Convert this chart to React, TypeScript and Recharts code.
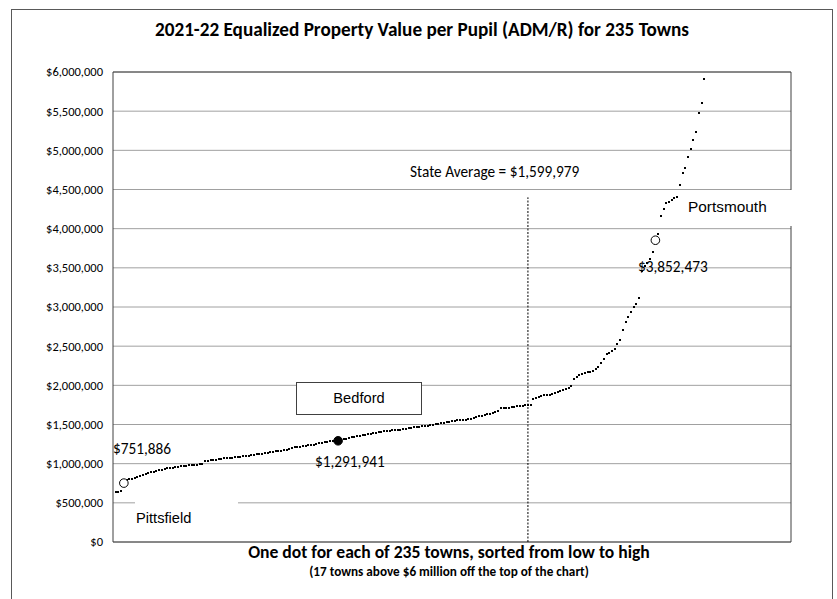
import React from 'react'
import {
  ScatterChart,
  Scatter,
  XAxis,
  YAxis,
  CartesianGrid,
  ReferenceLine,
} from 'recharts'

// Equalized property value per pupil, $ thousands, towns sorted low to high (ranks 1..218 on chart)
const townValuesK: number[] = [
  632, 640, 652, 752, 792, 800, 808, 818, 828, 840,
  852, 864, 876, 888, 898, 906, 914, 922, 932, 940,
  945, 950, 955, 960, 965, 970, 974, 978, 982, 986,
  989, 992, 995, 1036, 1040, 1044, 1048, 1052, 1056, 1062,
  1066, 1070, 1072, 1075, 1080, 1085, 1090, 1095, 1100, 1104,
  1108, 1112, 1118, 1123, 1128, 1135, 1140, 1146, 1152, 1158,
  1163, 1168, 1174, 1180, 1190, 1200, 1207, 1212, 1217, 1222,
  1228, 1232, 1237, 1242, 1250, 1258, 1266, 1274, 1280, 1283,
  1286, 1289, 1292, 1300, 1310, 1320, 1328, 1335, 1342, 1350,
  1358, 1365, 1372, 1378, 1383, 1388, 1394, 1400, 1408, 1412,
  1416, 1420, 1424, 1428, 1432, 1436, 1440, 1445, 1450, 1455,
  1462, 1467, 1472, 1477, 1482, 1487, 1492, 1498, 1503, 1508,
  1513, 1518, 1530, 1538, 1543, 1548, 1553, 1556, 1558, 1562,
  1566, 1574, 1584, 1596, 1608, 1614, 1621, 1628, 1634, 1645,
  1655, 1666, 1707, 1712, 1714, 1716, 1719, 1723, 1732, 1737,
  1740, 1745, 1750, 1755, 1822, 1834, 1850, 1862, 1872, 1877,
  1880, 1890, 1898, 1912, 1928, 1938, 1949, 1970, 1996, 2077,
  2110, 2130, 2145, 2158, 2166, 2174, 2185, 2204, 2238, 2281,
  2330, 2400, 2417, 2440, 2464, 2528, 2579, 2706, 2812, 2876,
  2932, 3004, 3040, 3119, 3463, 3523, 3560, 3613, 3706, 3852,
  3932, 4162, 4250, 4324, 4344, 4366, 4388, 4400, 4557, 4707,
  4770, 4919, 5021, 5132, 5238, 5481, 5608, 5911,
]

const highlightNames = ['Pittsfield', 'Bedford', 'Portsmouth']
const highlightRanks = [4, 83, 200]
const highlightValues = [751886, 1291941, 3852473]
const highlightFilled = [false, true, false]

const stateAverage = 1599979
const stateAverageRank = 153
const stateAverageTop = 4400000

const yTicks = [
  0, 500000, 1000000, 1500000, 2000000, 2500000, 3000000,
  3500000, 4000000, 4500000, 5000000, 5500000, 6000000,
]

const towns = townValuesK.map((v, i) => ({ rank: i + 1, value: v * 1000 }))
const highlights = highlightNames.map((name, i) => ({
  name,
  rank: highlightRanks[i],
  value: highlightValues[i],
  filled: highlightFilled[i],
}))

const money = (v: number) => '$' + v.toLocaleString('en-US')

const CAL = 'Carlito, Lato, sans-serif'
const ARIAL = '"Liberation Sans", Arial, sans-serif'

// small square marker, snapped to whole pixels so it stays crisp
const SmallDot = (props: any) => {
  const { cx, cy } = props
  if (cx == null || cy == null) return null
  return (
    <rect
      x={Math.round(cx - 1)}
      y={Math.round(cy - 1)}
      width={2}
      height={2}
      fill="#000"
      shapeRendering="crispEdges"
    />
  )
}

const BigDot = (props: any) => {
  const { cx, cy, payload } = props
  if (cx == null || cy == null) return null
  return (
    <circle
      cx={cx}
      cy={cy}
      r={4.3}
      fill={payload.filled ? '#000' : '#fff'}
      stroke="#000"
      strokeWidth={1}
    />
  )
}

const abs = (s: React.CSSProperties): React.CSSProperties => ({
  position: 'absolute',
  whiteSpace: 'nowrap',
  ...s,
})

const note = { fontSize: 15.3, lineHeight: '20px' }

export default function App() {
  return (
    <div
      style={{
        position: 'fixed',
        left: 0,
        top: 0,
        width: 837,
        height: 599,
        background: '#fff',
        overflow: 'hidden',
        fontFamily: CAL,
      }}
    >
      <div style={abs({ left: 11, top: 9, width: 820, height: 640, border: '1px solid #595959' })} />
      <div
        style={abs({
          left: 11,
          top: 18,
          width: 822,
          textAlign: 'center',
          fontSize: 19.2,
          lineHeight: '24px',
          fontWeight: 700,
        })}
      >
        2021-22 Equalized Property Value per Pupil (ADM/R) for 235 Towns
      </div>

      <div style={{ position: 'absolute', left: 0, top: 0 }}>
        <ScatterChart
          width={837}
          height={599}
          margin={{ top: 72, right: 46, bottom: 57, left: 0 }}
        >
          <CartesianGrid horizontal vertical={false} stroke="#a0a0a0" />
          <XAxis type="number" dataKey="rank" domain={[0, 250]} hide />
          <YAxis
            type="number"
            dataKey="value"
            domain={[0, 6000000]}
            ticks={yTicks}
            interval={0}
            width={113}
            tickFormatter={money}
            tickLine={false}
            tickMargin={4}
            axisLine={{ stroke: '#404040' }}
            tick={{ fontSize: 12.5, fill: '#000', fontFamily: CAL }}
            allowDataOverflow
          />
          <ReferenceLine y={6000000} stroke="#404040" />
          <ReferenceLine y={0} stroke="#404040" />
          <ReferenceLine x={250} stroke="#404040" />
          <ReferenceLine
            segment={[
              { x: stateAverageRank, y: 0 },
              { x: stateAverageRank, y: stateAverageTop },
            ]}
            stroke="#000"
            strokeDasharray="2 1.5"
          />
          <Scatter data={towns} shape={SmallDot} isAnimationActive={false} />
          <Scatter data={highlights} shape={BigDot} isAnimationActive={false} />
        </ScatterChart>
      </div>

      <div style={abs({ left: 410, top: 162, ...note })}>
        State Average = {money(stateAverage)}
      </div>
      <div style={abs({ left: 113, top: 439, ...note })}>{money(highlightValues[0])}</div>
      <div style={abs({ left: 315, top: 452, ...note })}>{money(highlightValues[1])}</div>
      <div style={abs({ left: 638, top: 257, ...note })}>{money(highlightValues[2])}</div>

      <div
        style={abs({
          left: 296,
          top: 382,
          width: 124,
          height: 31,
          border: '1px solid #404040',
          background: '#fff',
          fontFamily: ARIAL,
          fontSize: 14.67,
          lineHeight: '31px',
          textAlign: 'center',
        })}
      >
        {highlightNames[1]}
      </div>
      <div
        style={abs({
          left: 681,
          top: 190,
          width: 114,
          height: 36,
          background: '#fff',
          fontFamily: ARIAL,
          fontSize: 15.4,
          lineHeight: '34px',
          paddingLeft: 7,
          boxSizing: 'border-box',
        })}
      >
        {highlightNames[2]}
      </div>
      <div
        style={abs({
          left: 135,
          top: 497,
          width: 103,
          height: 42,
          background: '#fff',
          fontFamily: ARIAL,
          fontSize: 14.67,
          lineHeight: '42px',
          paddingLeft: 1,
          boxSizing: 'border-box',
        })}
      >
        {highlightNames[0]}
      </div>

      <div
        style={abs({
          left: 149,
          top: 543,
          width: 600,
          textAlign: 'center',
          fontSize: 17.6,
          lineHeight: '18px',
          fontWeight: 700,
        })}
      >
        One dot for each of 235 towns, sorted from low to high
      </div>
      <div
        style={abs({
          left: 149,
          top: 565,
          width: 600,
          textAlign: 'center',
          fontSize: 13.2,
          lineHeight: '13px',
          fontWeight: 700,
        })}
      >
        (17 towns above $6 million off the top of the chart)
      </div>
    </div>
  )
}
